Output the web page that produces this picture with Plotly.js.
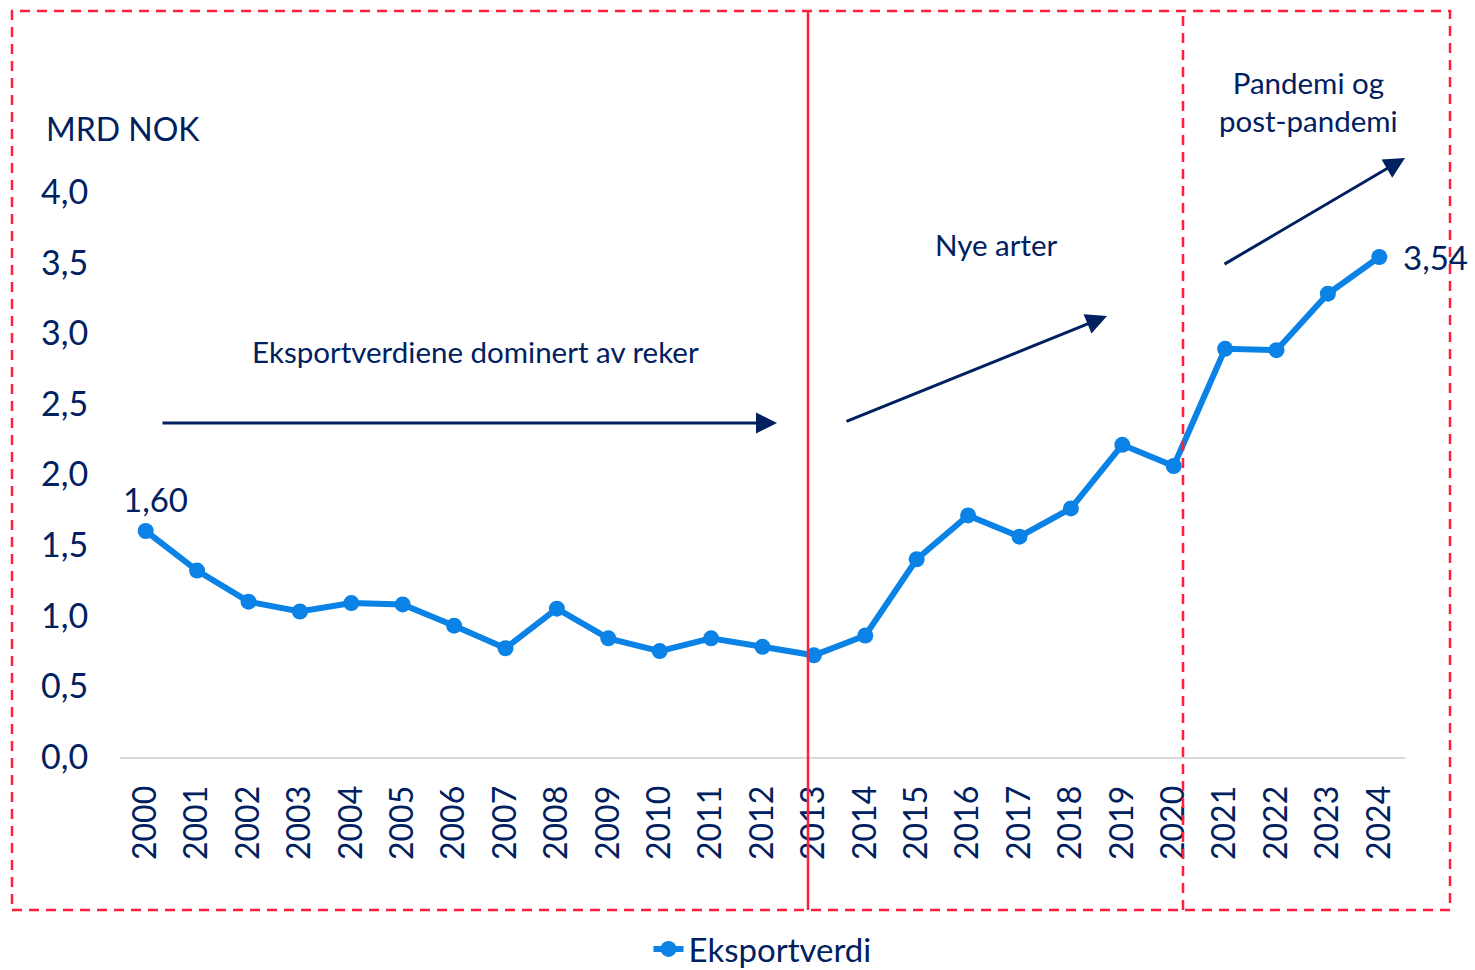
<!DOCTYPE html>
<html>
<head>
<meta charset="utf-8">
<script src="https://cdn.plot.ly/plotly-3.0.1.min.js"></script>
<style>html,body{margin:0;padding:0;background:#fff;}#chart{width:1475px;height:970px;}</style>
</head>
<body>
<div id="chart"></div>
<script>
const years = ["2000","2001","2002","2003","2004","2005","2006","2007","2008","2009","2010","2011","2012","2013","2014","2015","2016","2017","2018","2019","2020","2021","2022","2023","2024"];
const exportValues = [1.60,1.32,1.10,1.03,1.09,1.08,0.93,0.77,1.05,0.84,0.75,0.84,0.78,0.72,0.86,1.40,1.71,1.56,1.76,2.21,2.06,2.89,2.88,3.28,3.54];
const seriesName = "Eksportverdi";
const yTickVals = [0,0.5,1.0,1.5,2.0,2.5,3.0,3.5,4.0];

const navy = "#002060";
const blue = "#0A82E6";
const red = "#FF1F3D";
const font = "Lato, 'Open Sans', sans-serif";

// pixel helpers for decorations (plot area: x 120..1405, y 192..757)
const L = 120, W = 1285, B = 757, H = 565;
const px = v => (v - L) / W;
const py = v => (B - v) / H;

const fmt = v => v.toFixed(2).replace('.', ',');

const trace = {
  x: years, y: exportValues, name: seriesName, type: 'scatter', mode: 'lines+markers',
  line: {color: blue, width: 6}, marker: {color: blue, size: 16}, cliponaxis: false
};

const last = years.length - 1;
const txt = (x, y, text, size, anchor) => ({x: x, y: y, xref: 'paper', yref: 'paper', text: text, showarrow: false,
  xanchor: anchor || 'center', yanchor: 'middle', font: {size: size, color: navy, family: font}});
const arrow = (x0, y0, x1, y1) => ({x: px(x1), y: py(y1), xref: 'paper', yref: 'paper', ax: x0 - x1, ay: y0 - y1,
  text: '', showarrow: true, arrowhead: 2, arrowsize: 1.4, arrowwidth: 3, arrowcolor: navy});

const annotations = [
  {x: 0, y: exportValues[0], xref: 'x', yref: 'y', text: fmt(exportValues[0]), showarrow: false, yanchor: 'bottom', xanchor: 'center', yshift: 10, xshift: 10, font: {size: 33, color: navy, family: font}},
  {x: last, y: exportValues[last], xref: 'x', yref: 'y', text: fmt(exportValues[last]), showarrow: false, xanchor: 'left', yanchor: 'middle', xshift: 22, font: {size: 33, color: navy, family: font}},
  txt(px(44), py(128), 'MRD NOK', 32, 'left'),
  txt(px(475), py(351), 'Eksportverdiene dominert av reker', 29.5),
  txt(px(996), py(244), 'Nye arter', 29.5),
  txt(px(1308), py(102), 'Pandemi og<br>post-pandemi', 29.5),
  arrow(161, 423, 777, 423),
  arrow(845, 422, 1107, 316),
  arrow(1223, 265, 1405, 158)
];

const dashLine = {color: red, width: 2.5, dash: '10px,7px'};
const shapes = [
  {type: 'rect', xref: 'paper', yref: 'paper', x0: px(12), x1: px(1450), y0: py(910), y1: py(11), line: dashLine},
  {type: 'line', xref: 'paper', yref: 'paper', x0: px(808), x1: px(808), y0: py(910), y1: py(11), line: {color: red, width: 2.5}},
  {type: 'line', xref: 'paper', yref: 'paper', x0: px(1183), x1: px(1183), y0: py(910), y1: py(11), line: dashLine}
];

const layout = {
  width: 1475, height: 970,
  margin: {l: L, r: 1475 - L - W, t: B - H, b: 970 - B, pad: 0, autoexpand: false},
  paper_bgcolor: '#fff', plot_bgcolor: '#fff',
  separators: ', ',
  font: {family: font, color: navy, size: 32},
  showlegend: true,
  legend: {orientation: 'h', x: 0.5, xanchor: 'center', y: py(949), yanchor: 'middle', font: {size: 33, color: navy, family: font}},
  xaxis: {type: 'category', tickangle: -90, showgrid: false, zeroline: false, showline: true, linecolor: '#D9D9D9', linewidth: 2,
          automargin: false, ticks: 'outside', ticklen: 14, tickcolor: 'rgba(0,0,0,0)', tickfont: {size: 32, color: navy, family: font}, range: [-0.5, 24.5]},
  yaxis: {range: [0, 4.0], tickvals: yTickVals, tickformat: '.1f', showgrid: false, zeroline: false, showline: false,
          automargin: false, ticks: 'outside', ticklen: 24, tickcolor: 'rgba(0,0,0,0)', tickfont: {size: 34, color: navy, family: font}},
  annotations: annotations,
  shapes: shapes
};

Plotly.newPlot('chart', [trace], layout, {displayModeBar: false, staticPlot: true});
</script>
</body>
</html>
